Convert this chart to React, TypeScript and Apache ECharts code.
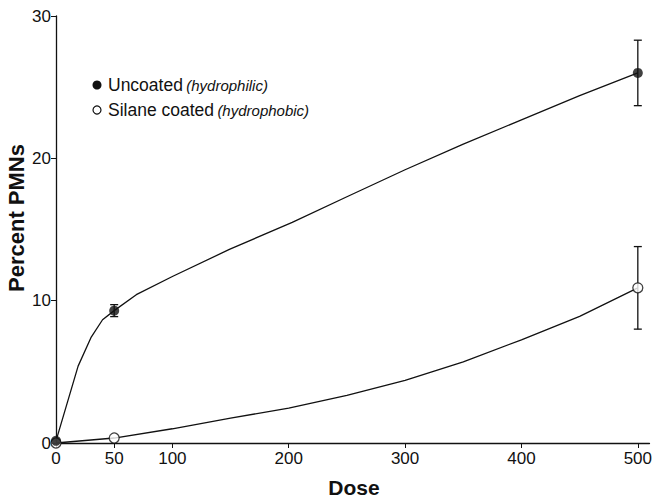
import React, { useEffect, useRef } from "react";
import * as echarts from "echarts";

const xTicks = [0, 50, 100, 200, 300, 400, 500];
const yTicks = [0, 10, 20, 30];

const uncoatedCurveX = [0, 19, 30, 40, 50, 69, 100, 149, 203, 250, 300, 350, 400, 450, 500];
const uncoatedCurveY = [0.15, 5.4, 7.4, 8.66, 9.3, 10.42, 11.7, 13.6, 15.5, 17.3, 19.2, 21.0, 22.7, 24.4, 26.0];

const silaneCurveX = [0, 50, 100, 150, 200, 250, 300, 350, 400, 450, 500];
const silaneCurveY = [0.0, 0.35, 1.0, 1.75, 2.45, 3.35, 4.4, 5.7, 7.25, 8.9, 10.9];

const measuredDose = [0, 50, 500];
const uncoatedMean = [0.15, 9.3, 26.0];
const uncoatedErr = [0, 0.42, 2.3];
const silaneMean = [0.0, 0.35, 10.9];
const silaneErr = [0, 0, 2.9];

const FONT = "'Liberation Sans', Arial, Helvetica, sans-serif";
const INK = "#111";

export default function App() {
  const ref = useRef<HTMLDivElement>(null);
  useEffect(() => {
    if (!ref.current) return;
    const chart = echarts.init(ref.current, null, { renderer: "svg" });
    const errData = (means: number[], errs: number[]) =>
      measuredDose
        .map((d, i) => [d, means[i] - errs[i], means[i] + errs[i]])
        .filter((_, i) => errs[i] > 0);
    const errSeries = (data: number[][]) => ({
      type: "custom",
      data,
      clip: false,
      z: 3,
      renderItem: (params: any, api: any) => {
        const x = api.value(0);
        const lo = api.coord([x, api.value(1)]);
        const hi = api.coord([x, api.value(2)]);
        const w = 4;
        const style = { stroke: INK, lineWidth: 1.3 };
        return {
          type: "group",
          children: [
            { type: "line", shape: { x1: lo[0], y1: lo[1], x2: hi[0], y2: hi[1] }, style },
            { type: "line", shape: { x1: lo[0] - w, y1: lo[1], x2: lo[0] + w, y2: lo[1] }, style },
            { type: "line", shape: { x1: hi[0] - w, y1: hi[1], x2: hi[0] + w, y2: hi[1] }, style },
          ],
        };
      },
    });
    const legendRich = {
      a: { fontSize: 17.5, fontFamily: FONT, fill: INK },
      b: { fontSize: 15, fontStyle: "italic", fontFamily: FONT, fill: INK },
    };
    chart.setOption({
      animation: false,
      backgroundColor: "#fff",
      textStyle: { fontFamily: FONT },
      grid: { left: 56, right: 3, top: 16, bottom: 56, containLabel: false },
      xAxis: {
        type: "value",
        min: 0,
        max: 510,
        axisLine: { show: true, lineStyle: { color: INK, width: 1.3 } },
        axisTick: { show: true, length: 5, customValues: xTicks, lineStyle: { color: INK } },
        axisLabel: { customValues: xTicks, fontSize: 17, color: INK, margin: 7, fontFamily: FONT },
        splitLine: { show: false },
      },
      yAxis: {
        type: "value",
        min: 0,
        max: 30,
        interval: 10,
        axisLine: { show: true, lineStyle: { color: INK, width: 1.3 } },
        axisTick: { show: true, length: 5, lineStyle: { color: INK } },
        axisLabel: {
          fontSize: 17,
          color: INK,
          margin: 5,
          fontFamily: FONT,
          formatter: (v: number) => (yTicks.includes(v) ? String(v) : ""),
        },
        splitLine: { show: false },
      },
      series: [
        {
          type: "line",
          data: uncoatedCurveX.map((x, i) => [x, uncoatedCurveY[i]]),
          smooth: false,
          showSymbol: false,
          lineStyle: { color: INK, width: 1.3 },
          z: 2,
        },
        {
          type: "line",
          data: silaneCurveX.map((x, i) => [x, silaneCurveY[i]]),
          smooth: false,
          showSymbol: false,
          lineStyle: { color: INK, width: 1.3 },
          z: 2,
        },
        errSeries(errData(uncoatedMean, uncoatedErr)),
        errSeries(errData(silaneMean, silaneErr)),
        {
          type: "scatter",
          data: measuredDose.map((d, i) => [d, silaneMean[i]]),
          symbol: "circle",
          symbolSize: 10,
          itemStyle: { color: "#fff", borderColor: INK, borderWidth: 1.3 },
          clip: false,
          z: 5,
        },
        {
          type: "scatter",
          data: measuredDose.map((d, i) => [d, uncoatedMean[i]]),
          symbol: "circle",
          symbolSize: 10,
          itemStyle: { color: INK },
          clip: false,
          z: 6,
        },
      ],
      graphic: [
        { type: "circle", shape: { cx: 97, cy: 85, r: 4.5 }, style: { fill: INK } },
        { type: "circle", shape: { cx: 97, cy: 110, r: 4 }, style: { fill: "#fff", stroke: INK, lineWidth: 1.2 } },
        {
          type: "text",
          x: 108,
          y: 85,
          style: { text: "{a|Uncoated} {b|(hydrophilic)}", verticalAlign: "middle", rich: legendRich },
        },
        {
          type: "text",
          x: 108,
          y: 110,
          style: { text: "{a|Silane coated} {b|(hydrophobic)}", verticalAlign: "middle", rich: legendRich },
        },
        {
          type: "text",
          x: 16,
          y: 218,
          rotation: Math.PI / 2,
          style: {
            text: "Percent PMNs",
            fontSize: 22,
            fontWeight: "bold",
            fontFamily: FONT,
            fill: INK,
            align: "center",
            verticalAlign: "middle",
          },
        },
        {
          type: "text",
          x: 354,
          y: 487,
          style: {
            text: "Dose",
            fontSize: 21,
            fontWeight: "bold",
            fontFamily: FONT,
            fill: INK,
            align: "center",
            verticalAlign: "middle",
          },
        },
      ],
    });
    return () => chart.dispose();
  }, []);
  return <div ref={ref} style={{ width: 655, height: 499, position: "absolute", left: 0, top: 0 }} />;
}
